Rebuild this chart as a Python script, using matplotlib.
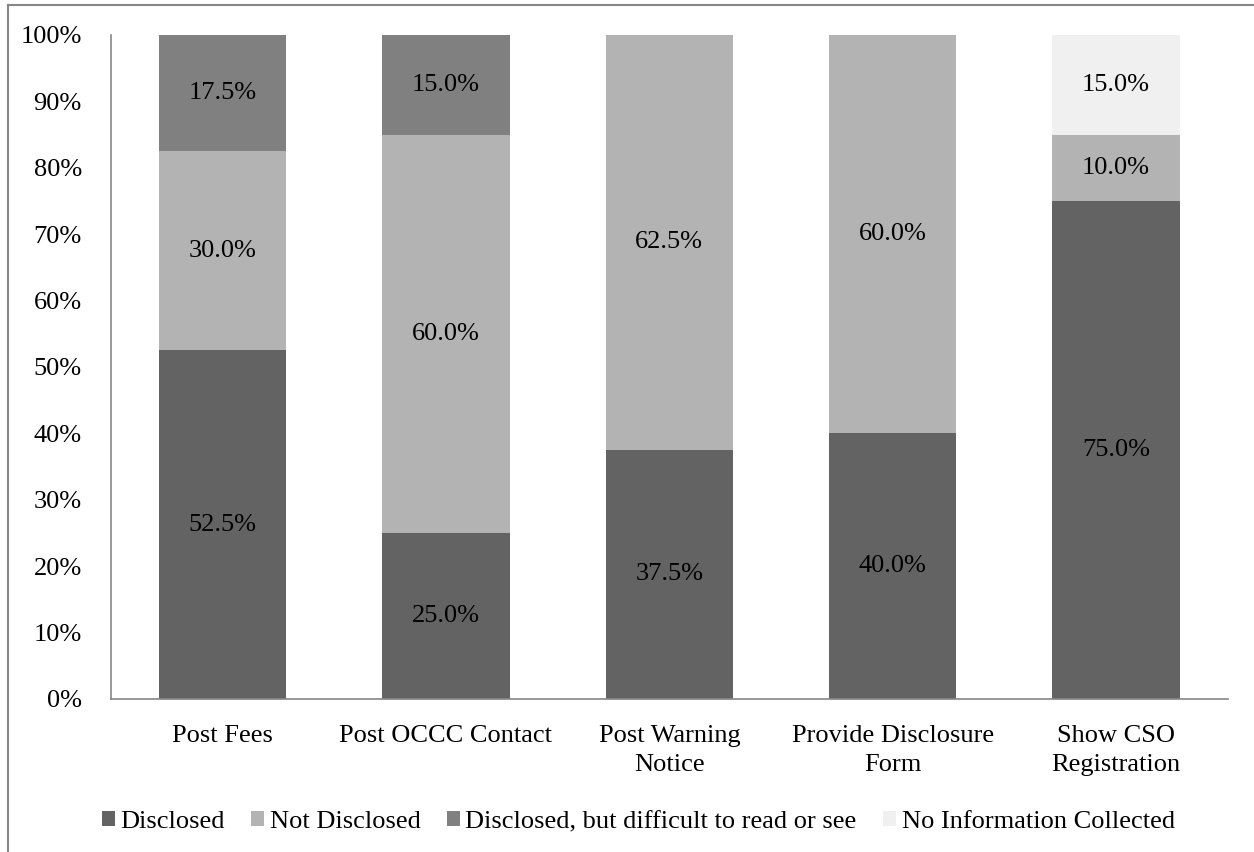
import matplotlib.pyplot as plt
import numpy as np
from matplotlib.lines import Line2D

plt.rcParams['font.family'] = ['Liberation Serif', 'DejaVu Serif']

# Данные графика
categories = ['Post Fees', 'Post OCCC Contact', 'Post Warning\nNotice',
              'Provide Disclosure\nForm', 'Show CSO\nRegistration']
disclosed = [52.5, 25.0, 37.5, 40.0, 75.0]
not_disclosed = [30.0, 60.0, 62.5, 60.0, 10.0]
difficult = [17.5, 15.0, 0.0, 0.0, 0.0]
no_info = [0.0, 0.0, 0.0, 0.0, 15.0]

series = [
    ('Disclosed', disclosed, '#636363'),
    ('Not Disclosed', not_disclosed, '#b3b3b3'),
    ('Disclosed, but difficult to read or see', difficult, '#808080'),
    ('No Information Collected', no_info, '#f0f0f0'),
]

fs = 19

fig = plt.figure(figsize=(12.54, 8.52), dpi=100)
ax = fig.add_axes([0.0885, 0.1796, 0.8905, 0.7794])

x = np.arange(len(categories))
bottom = np.zeros(len(categories))
for name, vals, col in series:
    vals = np.array(vals)
    ax.bar(x, vals, 0.57, bottom=bottom, color=col, label=name)
    for xi, b, v in zip(x, bottom, vals):
        if v > 0:
            ax.text(xi, b + v / 2, '%.1f%%' % v, ha='center', va='center', fontsize=fs)
    bottom += vals

ax.set_xlim(-0.5, len(categories) - 0.5)
ax.set_ylim(0, 100)
ax.set_yticks(range(0, 101, 10))
ax.set_yticklabels(['%d%%' % v for v in range(0, 101, 10)], fontsize=fs)
ax.set_xticks(x)
ax.set_xticklabels(categories, fontsize=fs, linespacing=1.4)
ax.tick_params(axis='both', length=0)
ax.tick_params(axis='y', pad=21)
ax.tick_params(axis='x', pad=19)
for s in ['top', 'right']:
    ax.spines[s].set_visible(False)
for s in ['left', 'bottom']:
    ax.spines[s].set_color('#868686')
    ax.spines[s].set_linewidth(1.2)

# Легенда
fig.legend(loc='center', bbox_to_anchor=(0.509, 0.035), ncol=4, frameon=False,
           fontsize=fs, handlelength=0.5, handleheight=0.5, handletextpad=0.2,
           columnspacing=1.0)

# Рамка (видны только левая и верхняя стороны)
fig.lines.append(Line2D([8 / 1254, 8 / 1254], [0, 1 - 5 / 852], transform=fig.transFigure,
                        color='#868686', linewidth=1.5))
fig.lines.append(Line2D([8 / 1254, 1], [1 - 5 / 852, 1 - 5 / 852], transform=fig.transFigure,
                        color='#868686', linewidth=1.5))

fig.savefig('out.png', dpi=100)
